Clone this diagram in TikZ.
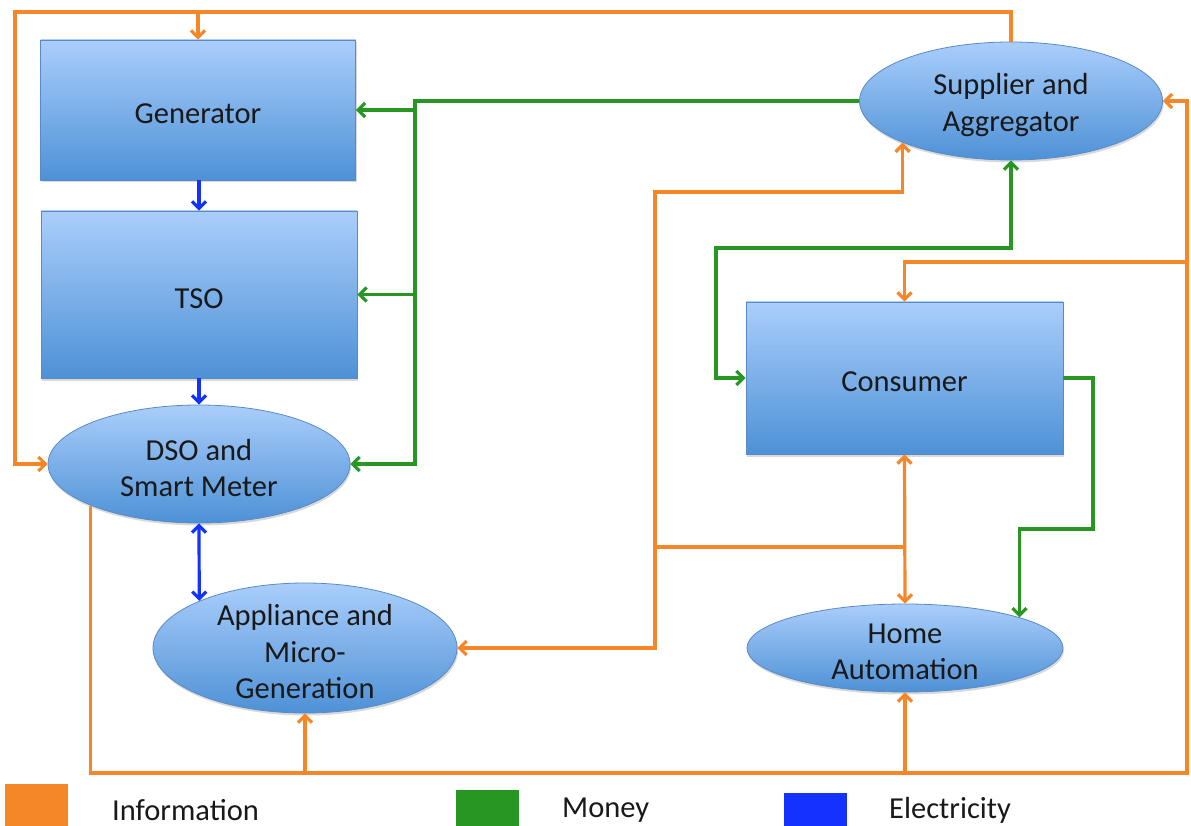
\documentclass[tikz,border=0pt]{standalone}
\usepackage{fontspec}
\setmainfont{Carlito}
\usetikzlibrary{arrows.meta,shapes.geometric,shadows}

\definecolor{info}{RGB}{245,135,40}
\definecolor{money}{RGB}{40,150,35}
\definecolor{power}{RGB}{20,50,255}
\definecolor{boxtop}{RGB}{170,206,251}
\definecolor{boxbot}{RGB}{78,145,214}
\definecolor{boxedge}{RGB}{90,138,198}

\begin{document}
\begin{tikzpicture}[x=1pt,y=-1pt,
  >={Straight Barb[length=7pt,width=14pt]},
  every node/.style={font=\fontsize{30.5}{36.5}\selectfont, text=black!90},
  unit/.style={draw=boxedge, line width=0.8pt, top color=boxtop, bottom color=boxbot,
    drop shadow={opacity=0.3, shadow xshift=1pt, shadow yshift=-2.5pt},
    inner sep=0pt},
  block/.style={unit, rectangle},
  role/.style={unit, ellipse},
  caption/.style={align=center, yshift=-4pt, inner sep=0pt},
  key/.style={anchor=west, inner sep=0pt},
  flow/.style={line width=3.2pt},
  infoline/.style={flow, draw=info},
  moneyline/.style={flow, draw=money},
  powerline/.style={flow, draw=power}]

\useasboundingbox (0,0) rectangle (1191,826);

% actors
\node[block, minimum width=315pt, minimum height=140pt] (Gen) at (198,110) {};
\node[block, minimum width=316pt, minimum height=167pt] (TSO) at (199,294.5) {};
\node[role, minimum width=302pt, minimum height=118pt] (DSO) at (199,464) {};
\node[role, minimum width=304pt, minimum height=130pt] (App) at (305,648) {};
\node[role, minimum width=303pt, minimum height=118pt] (Sup) at (1011,101) {};
\node[block, minimum width=317pt, minimum height=152pt] (Con) at (904.5,378) {};
\node[role, minimum width=316pt, minimum height=88pt] (Home) at (905,648) {};

% their names
\node[caption] (GenT) at (Gen) {Generator};
\node[caption] (TSOT) at (TSO) {TSO};
\node[caption] (DSOT) at (DSO) {DSO and\\Smart Meter};
\node[caption] (AppT) at (App) {Appliance and\\Micro-\\Generation};
\node[caption] (SupT) at (Sup) {Supplier and\\Aggregator};
\node[caption] (ConT) at (Con) {Consumer};
\node[caption] (HomeT) at (Home) {Home\\Automation};

% information
\draw[infoline, ->] (Sup.north) |- (15,12) |- (DSO.west);
\draw[infoline, ->] (Gen.north |- 0,12) -- (Gen.north);
\draw[infoline, ->] (DSO.201.25) |- (1187,773) |- (Sup.east);
\draw[infoline, ->] (App.south |- 0,773) -- (App.south);
\draw[infoline, ->] (Home.south |- 0,773) -- (Home.south);
\draw[infoline, ->] (1187,262) -| (Con.north);
\draw[infoline, <->] (Sup.201.6) |- (655,192) |- (App.east);
\draw[infoline, <->] (Con.south) -- (Home.north);
\draw[infoline] (Con.south |- 0,547) -- (655,547);

% money
\draw[moneyline, ->] (Sup.west) -| (415,464) -- (DSO.east);
\draw[moneyline, ->] (415,110) -- (Gen.east);
\draw[moneyline, ->] (415,294.5) -- (TSO.east);
\draw[moneyline, <->] (Sup.south) |- (716,248) |- (Con.west);
\draw[moneyline, ->] (Con.east) -| (1093,529) -| (Home.15.6);

% electricity
\draw[powerline, ->] (Gen.south -| TSO.north) -- (TSO.north);
\draw[powerline, ->] (TSO.south) -- (DSO.north);
\draw[powerline, <->] (DSO.south) -- (App.156.1);

% legend
\fill[info] (5,784) rectangle (68,826);
\fill[money] (456,790) rectangle (519,826);
\fill[power] (784,793) rectangle (847,826);
\node[key] (lInfo) at (112,810) {Information};
\node[key] (lMoney) at (562,810) {Money};
\node[key] (lPower) at (889,810) {Electricity};
\end{tikzpicture}
\end{document}
